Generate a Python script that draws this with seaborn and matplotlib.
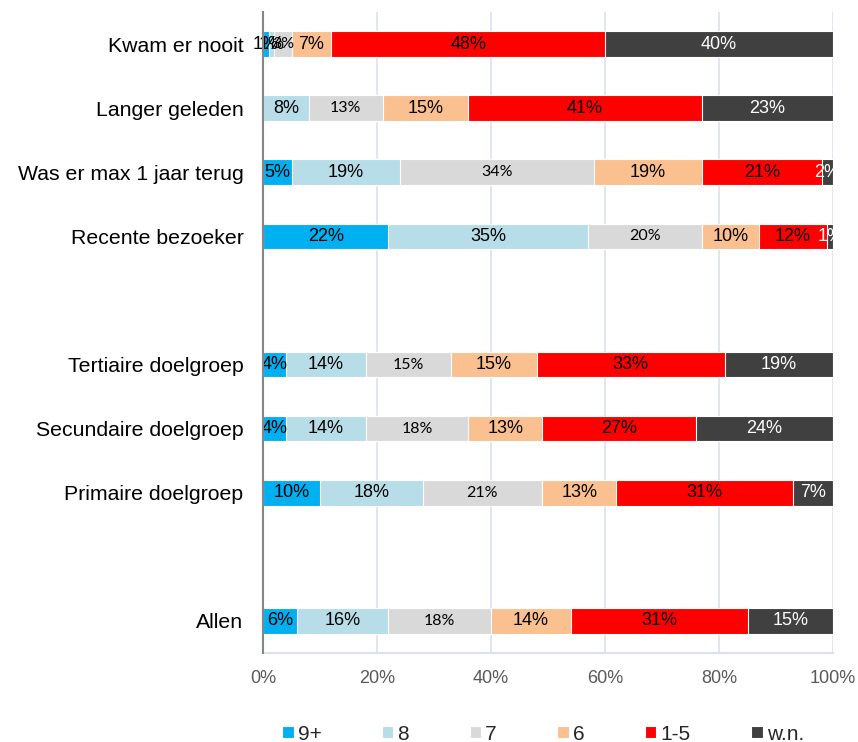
import numpy as np
import pandas as pd
import matplotlib
matplotlib.use("Agg")
import matplotlib.pyplot as plt
import seaborn as sns

# ---- data ----
categories = ["Kwam er nooit", "Langer geleden", "Was er max 1 jaar terug",
              "Recente bezoeker", "", "Tertiaire doelgroep", "Secundaire doelgroep",
              "Primaire doelgroep", " ", "Allen"]
series = ["9+", "8", "7", "6", "1-5", "w.n."]
colors = ["#00B0F0", "#B7DEE8", "#D9D9D9", "#FAC090", "#FF0000", "#404040"]
label_colors = ["black", "black", "black", "black", "black", "white"]

data_cats = ["Kwam er nooit", "Langer geleden", "Was er max 1 jaar terug",
             "Recente bezoeker", "Tertiaire doelgroep", "Secundaire doelgroep",
             "Primaire doelgroep", "Allen"]
v_9 = [1, 0, 5, 22, 4, 4, 10, 6]
v_8 = [1, 8, 19, 35, 14, 14, 18, 16]
v_7 = [3, 13, 34, 20, 15, 18, 21, 18]
v_6 = [7, 15, 19, 10, 15, 13, 13, 14]
v_15 = [48, 41, 21, 12, 33, 27, 31, 31]
v_wn = [40, 23, 2, 1, 19, 24, 7, 15]
xticks = [0, 20, 40, 60, 80, 100]
xtick_labels = ["0%", "20%", "40%", "60%", "80%", "100%"]

vals = np.array([v_9, v_8, v_7, v_6, v_15, v_wn], dtype=float)
cum = np.cumsum(vals, axis=0)

df = pd.DataFrame({"cat": data_cats})
for i, s in enumerate(series):
    df[f"cum_{i}"] = cum[i]

# ---- figure ----
sns.set_style("white")
plt.rcParams["font.family"] = ["Liberation Sans", "DejaVu Sans"]

fig = plt.figure(figsize=(8.58, 7.42), dpi=100)
ax = fig.add_axes([263 / 858, 1 - 653 / 742, 570 / 858, 641 / 742])

grid_c = "#D9E2F0"
for xv in xticks:
    ax.axvline(xv, color=grid_c, lw=1.2, zorder=0)

for i in range(len(series) - 1, -1, -1):
    sns.barplot(data=df, x=f"cum_{i}", y="cat", order=categories, orient="h",
                color=colors[i], saturation=1, width=0.4, errorbar=None,
                edgecolor="white", linewidth=0.8, ax=ax, label=series[i], zorder=2)

ypos = {c: categories.index(c) for c in data_cats}
for i in range(len(series)):
    for j, c in enumerate(data_cats):
        v = vals[i, j]
        if v <= 0:
            continue
        xc = cum[i, j] - v / 2
        if i == 2:
            ax.text(xc, ypos[c], f"{int(v)}%", ha="center", va="center",
                    fontsize=11.5, family=["Lato", "DejaVu Sans"],
                    color=label_colors[i], zorder=5)
        else:
            ax.text(xc, ypos[c], f"{int(v)}%", ha="center", va="center",
                    fontsize=13, color=label_colors[i], zorder=5)

ax.set_xlim(0, 100)
ax.set_ylim(len(categories) - 0.5, -0.5)
ax.set_xticks(xticks)
ax.set_xticklabels(xtick_labels, fontsize=13, color="#595959")
ax.tick_params(axis="x", length=0, pad=12)
ax.set_yticks(range(len(categories)))
ax.set_yticklabels(categories, fontsize=15.3, color="black")
ax.set_yticks(np.arange(-0.5, len(categories), 1.0), minor=True)
ax.tick_params(axis="y", which="major", length=0, pad=14)
ax.tick_params(axis="y", which="minor", length=4.5, width=1.4, color="#868686",
               direction="out")
ax.set_xlabel("")
ax.set_ylabel("")

for s in ["top", "right"]:
    ax.spines[s].set_visible(False)
ax.spines["left"].set_color("#868686")
ax.spines["left"].set_linewidth(1.5)
ax.spines["left"].set_zorder(6)
ax.spines["bottom"].set_color(grid_c)
ax.spines["bottom"].set_linewidth(1.5)

handles, labels = ax.get_legend_handles_labels()
handles, labels = handles[::-1], labels[::-1]
leg = ax.get_legend()
if leg is not None:
    leg.remove()
fig.legend(handles, labels, loc="center", bbox_to_anchor=(543 / 858, 1 - 734 / 742),
           ncol=6, frameon=False, fontsize=15, handlelength=0.55, handleheight=0.55,
           handletextpad=0.2, columnspacing=2.9, borderpad=0)

fig.savefig("out.png", dpi=100)
